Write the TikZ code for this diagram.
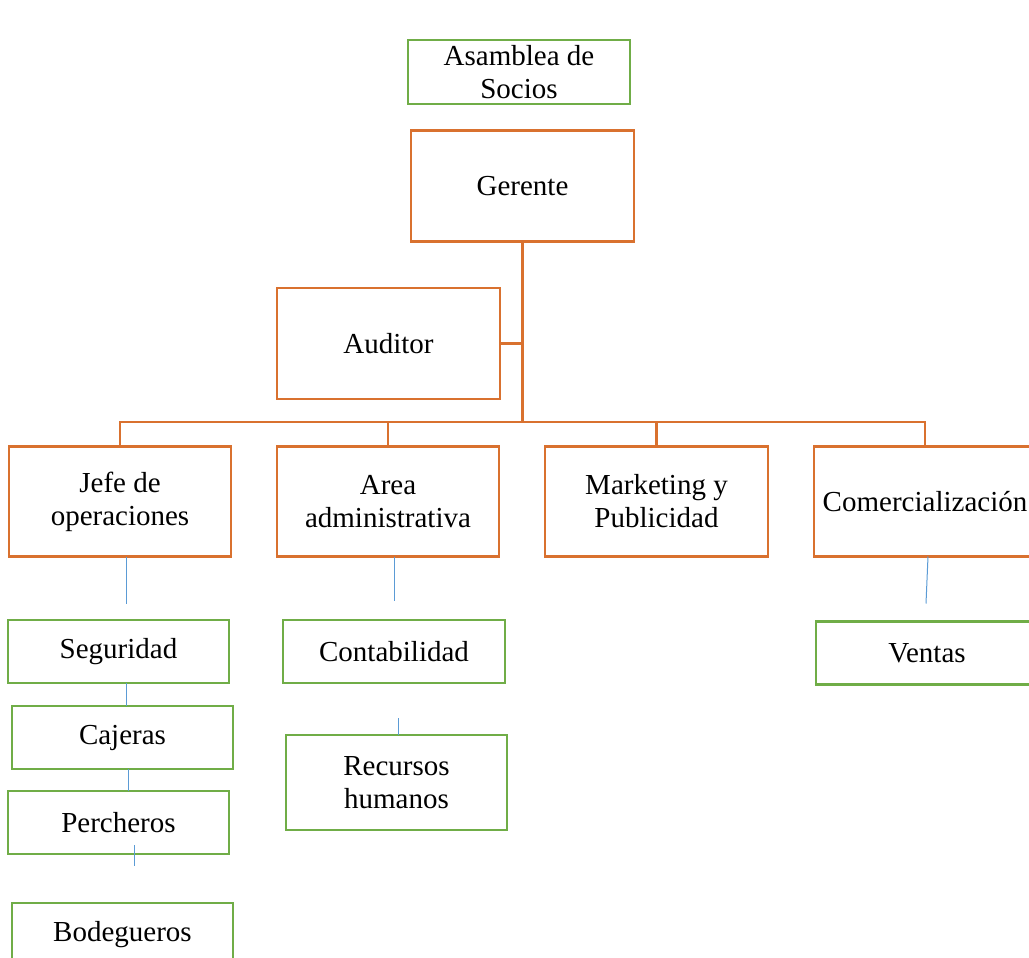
\documentclass[tikz,border=0pt]{standalone}
\usepackage{fontspec}
\setmainfont{Liberation Serif}
\definecolor{orgline}{HTML}{D9712F}
\definecolor{grnline}{HTML}{70AD47}
\definecolor{bluline}{HTML}{5B9BD5}
\begin{document}
\begin{tikzpicture}[x=1pt,y=-1pt,
  box/.style={rectangle,inner sep=0pt,outer sep=0pt,align=center,
    font=\fontsize{29}{33}\selectfont,fill=white},
  obox/.style={box,draw=orgline,line width=2.5pt},
  gbox/.style={box,draw=grnline,line width=2.5pt},
  oline/.style={draw=orgline,line width=2.5pt},
  bline/.style={draw=bluline,line width=1pt}]
\useasboundingbox (0,0) rectangle (1029,958);

% governing bodies
\node[gbox,minimum width=222pt,minimum height=64pt] (asam) at (519,72) {Asamblea de\\Socios};
\node[obox,minimum width=223pt,minimum height=111pt] (ger) at (522.5,186) {Gerente};
\node[obox,minimum width=223pt,minimum height=111pt] (aud) at (388.5,343.5) {Auditor};

% departments
\node[obox,minimum width=222pt,minimum height=110pt] (jefe) at (120,501.5) {Jefe de\\operaciones};
\node[obox,minimum width=222pt,minimum height=110pt] (area) at (388,501.5) {Area\\administrativa};
\node[obox,minimum width=223pt,minimum height=110pt] (mkt) at (656.5,501.5) {Marketing y\\Publicidad};
\node[obox,minimum width=222pt,minimum height=110pt] (com) at (925,501.5) {Comercialización};

% staff units
\node[gbox,minimum width=221pt,minimum height=63pt] (seg) at (118.5,651.5) {Seguridad};
\node[gbox,minimum width=221pt,minimum height=63pt] (caj) at (122.5,737.5) {Cajeras};
\node[gbox,minimum width=221pt,minimum height=63pt] (perc) at (118.5,822.5) {Percheros};
\node[gbox,minimum width=221pt,minimum height=63pt] (bod) at (122.5,934.5) {Bodegueros};
\node[gbox,minimum width=222pt,minimum height=63pt] (cont) at (394,651.5) {Contabilidad};
\node[gbox,minimum width=221pt,minimum height=95pt] (rh) at (396.5,782.5) {Recursos\\humanos};
\node[gbox,minimum width=222pt,minimum height=63pt] (ven) at (927,653) {Ventas};

% reporting lines from the manager
\coordinate (bar) at (ger.south |- 0,422);
\draw[oline] (ger.south) -- (bar);
\draw[oline] (aud.east) -- (aud.east -| ger.south);
\draw[oline] (jefe.north) |- (com.north |- bar) -- (com.north);
\draw[oline] (area.north) -- (area.north |- bar);
\draw[oline] (mkt.north) -- (mkt.north |- bar);

% thin links to the staff units
\draw[bline] ([xshift=6pt]jefe.south) -- ([xshift=7.5pt,yshift=16pt]seg.north);
\draw[bline] ([xshift=7.5pt]seg.south) -- ([xshift=3.5pt]caj.north);
\draw[bline] ([xshift=5.5pt]caj.south) -- ([xshift=9.5pt]perc.north);
\draw[bline] ([xshift=15.5pt,yshift=9pt]perc.south) -- ([xshift=11.5pt,yshift=37pt]bod.north);
\draw[bline] ([xshift=6pt]area.south) -- ([yshift=19pt]cont.north);
\draw[bline] ([xshift=4pt,yshift=-35pt]cont.south) -- ([xshift=1.5pt]rh.north);
\draw[bline] ([xshift=3pt]com.south) -- ([xshift=-1pt,yshift=18pt]ven.north);
\end{tikzpicture}
\end{document}
